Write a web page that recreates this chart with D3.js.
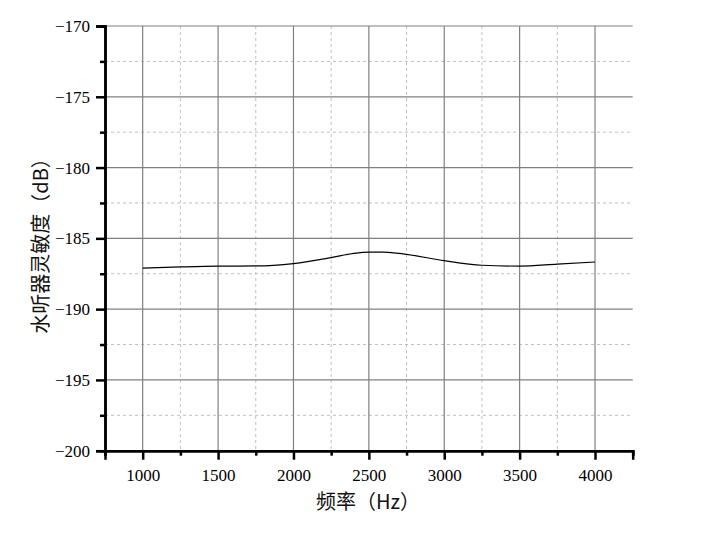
<!DOCTYPE html>
<html><head><meta charset="utf-8">
<script src="https://cdn.jsdelivr.net/npm/d3@7"></script>
<style>body{margin:0;background:#fff}</style>
</head><body>
<svg id="c" width="719" height="534"></svg>
<script>
const freqs = [1000,1250,1500,1750,2000,2250,2400,2500,2600,2750,3000,3250,3500,3750,4000];
const sens = [-187.11,-187.02,-186.96,-186.95,-186.78,-186.36,-186.06,-185.97,-185.97,-186.13,-186.58,-186.90,-186.96,-186.82,-186.67];
const xTicks = [1000,1500,2000,2500,3000,3500,4000];
const yTicks = [-170,-175,-180,-185,-190,-195,-200];
const xLabel = "频率（Hz）";
const yLabel = "水听器灵敏度（dB）";

const svg = d3.select("#c");
const L=105, R=632.7, T=26, B=450.7;
const x = d3.scaleLinear().domain([750,4250]).range([L,R]);
const y = d3.scaleLinear().domain([-200,-170]).range([B,T]);
const xMinor = d3.range(1250,4250,500);
const yMinor = d3.range(-197.5,-170,5);
const tickFont = "'Liberation Serif','Times New Roman',serif";

svg.append("g").selectAll("line").data(xMinor).join("line")
  .attr("x1",d=>x(d)).attr("x2",d=>x(d)).attr("y1",T).attr("y2",B)
  .attr("stroke","#c0c0c0").attr("stroke-dasharray","3,3").attr("stroke-width",1);
svg.append("g").selectAll("line").data(yMinor).join("line")
  .attr("y1",d=>y(d)).attr("y2",d=>y(d)).attr("x1",L).attr("x2",R)
  .attr("stroke","#c0c0c0").attr("stroke-dasharray","3,3").attr("stroke-width",1);
svg.append("g").selectAll("line").data(xTicks).join("line")
  .attr("x1",d=>x(d)).attr("x2",d=>x(d)).attr("y1",T).attr("y2",B)
  .attr("stroke","#808080").attr("stroke-width",1.2);
svg.append("g").selectAll("line").data(yTicks.filter(d=>d>-200)).join("line")
  .attr("y1",d=>y(d)).attr("y2",d=>y(d)).attr("x1",L).attr("x2",R)
  .attr("stroke","#808080").attr("stroke-width",1.2);

svg.append("path").datum(freqs.map((f,i)=>[f,sens[i]]))
  .attr("fill","none").attr("stroke","#000").attr("stroke-width",1.2)
  .attr("d", d3.line().x(d=>x(d[0])).y(d=>y(d[1])).curve(d3.curveMonotoneX));

const xAxis = svg.append("g").attr("transform",`translate(0,${B})`)
  .call(d3.axisBottom(x).tickValues(xTicks).tickSize(9).tickPadding(8).tickFormat(d3.format("d")));
const xAxisMinor = svg.append("g").attr("transform",`translate(0,${B})`)
  .call(d3.axisBottom(x).tickValues([750,...xMinor,4250]).tickSize(5).tickFormat(""));
const yAxis = svg.append("g").attr("transform",`translate(${L},0)`)
  .call(d3.axisLeft(y).tickValues(yTicks).tickSize(9).tickPadding(6).tickFormat(d=>"\u2212"+Math.abs(d)));
const yAxisMinor = svg.append("g").attr("transform",`translate(${L},0)`)
  .call(d3.axisLeft(y).tickValues(yMinor).tickSize(5).tickFormat(""));
[xAxis,xAxisMinor,yAxis,yAxisMinor].forEach(g=>{
  g.select(".domain").attr("stroke","#000").attr("stroke-width",2.5);
  g.selectAll(".tick line").attr("stroke","#000").attr("stroke-width",2.5);
  g.selectAll("text").attr("font-family",tickFont).attr("font-size",17).attr("fill","#000");
});
xAxis.selectAll("text").attr("dy","0.78em");

svg.append("text").attr("x",368).attr("y",509).attr("text-anchor","middle")
  .attr("font-family","'Noto Sans CJK SC',sans-serif").attr("font-size",20).attr("fill","#111")
  .text(xLabel);
svg.append("text").attr("transform","translate(48,241) rotate(-90)").attr("text-anchor","middle")
  .attr("font-family","'Noto Sans CJK SC',sans-serif").attr("font-size",20).attr("fill","#111")
  .text(yLabel);
</script>
</body></html>
